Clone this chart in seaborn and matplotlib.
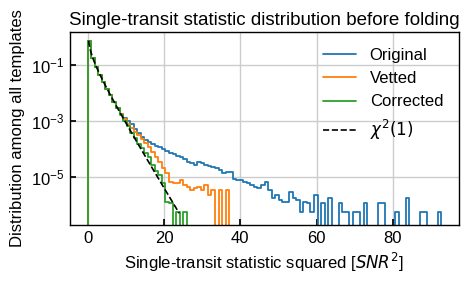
import numpy as np
import pandas as pd
import matplotlib
matplotlib.use("Agg")
import matplotlib.pyplot as plt
import seaborn as sns

# ---- data ----
bin_lo, bin_hi, n_bins = 0.0, 92.7, 100

original = [
    0.72, 0.176, 0.084, 0.044, 0.025, 0.014, 0.0081, 0.0048, 0.0029, 0.0018,
    1.26e-3, 1.0e-3, 7.6e-4, 5.2e-4, 3.7e-4, 2.7e-4, 2.0e-4, 1.8e-4, 1.5e-4, 1.26e-4,
    1.12e-4, 9.5e-5, 8.3e-5, 7.2e-5, 6.3e-5, 5.4e-5, 5.1e-5, 4.2e-5, 3.5e-5, 3.0e-5,
    2.6e-5, 3.5e-5, 3.0e-5, 2.6e-5, 2.5e-5, 2.3e-5, 2.0e-5, 1.74e-5, 1.38e-5, 1.5e-5,
    1.5e-5, 8.7e-6, 7.6e-6, 7.6e-6, 6.6e-6, 5.8e-6, 5.0e-6, 4.4e-6, 3.9e-6, 5.0e-6,
    6.6e-6, 3.35e-6, 1.7e-6, 2.25e-6, 1.48e-6, 1.29e-6, 1.29e-6, 2.95e-6, 1.7e-6, 1.48e-6,
    5.6e-7, 1.29e-6, 1.12e-6, 5.6e-7, 2.25e-6, 0, 1.12e-6, 0, 1.7e-6, 0,
    0, 1.12e-6, 5.6e-7, 5.6e-7, 0, 5.6e-7, 5.6e-7, 0, 1.12e-6, 0,
    0, 0, 1.12e-6, 1.12e-6, 0, 0, 0, 5.6e-7, 0, 0,
    1.7e-6, 0, 0, 0, 5.6e-7, 5.6e-7, 0, 0, 0, 5.6e-7,
]

vetted = [
    0.72, 0.176, 0.084, 0.044, 0.025, 0.014, 0.0081, 0.0048, 0.0028, 0.0017,
    1.12e-3, 7.9e-4, 5.6e-4, 4.0e-4, 3.0e-4, 2.2e-4, 1.66e-4, 1.2e-4, 7.9e-5, 5.0e-5,
    3.5e-5, 2.0e-5, 1.32e-5, 6.6e-6, 6.2e-6, 6.2e-6, 7.6e-6, 5.0e-6, 4.2e-6, 3.35e-6,
    3.85e-6, 4.5e-6, 3.35e-6, 5.0e-6, 2.3e-6, 3.35e-6, 0, 3.5e-6, 0, 3.35e-6,
    0, 0, 0, 0, 0, 0, 0, 0, 0, 0,
    0, 0, 0, 0, 0, 0, 0, 0, 0, 0,
    0, 0, 0, 0, 0, 0, 0, 0, 0, 0,
    0, 0, 0, 0, 0, 0, 0, 0, 0, 0,
    0, 0, 0, 0, 0, 0, 0, 0, 0, 0,
    0, 0, 0, 0, 0, 0, 0, 0, 0, 0,
]

corrected = [
    0.716, 0.1755, 0.084, 0.0443, 0.0247, 0.014, 0.008, 0.0047, 0.0028, 0.00167,
    1.0e-3, 6.3e-4, 3.8e-4, 2.4e-4, 1.5e-4, 1.05e-4, 7.2e-5, 5.0e-5, 2.6e-5, 1.6e-5,
    1.12e-5, 5.8e-6, 1.29e-6, 1.12e-6, 0, 5.6e-7, 0, 5.6e-7, 0, 0,
    0, 0, 0, 0, 0, 0, 0, 0, 0, 0,
    0, 0, 0, 0, 0, 0, 0, 0, 0, 0,
    0, 0, 0, 0, 0, 0, 0, 0, 0, 0,
    0, 0, 0, 0, 0, 0, 0, 0, 0, 0,
    0, 0, 0, 0, 0, 0, 0, 0, 0, 0,
    0, 0, 0, 0, 0, 0, 0, 0, 0, 0,
    0, 0, 0, 0, 0, 0, 0, 0, 0, 0,
]

series_names = ["Original", "Vetted", "Corrected"]
series_colors = ["#1f77b4", "#ff7f0e", "#2ca02c"]
chi_label = r"$\chi^2(1)$"
chi_range = (0.0, 24.0)

title = "Single-transit statistic distribution before folding"
xlabel = r"Single-transit statistic squared [$SNR^2$]"
ylabel = "Distribution among all templates"
x_ticks = [0, 20, 40, 60, 80]

# ---- style ----
sns.set_theme(style="whitegrid")
plt.rcParams.update({
    "font.family": ["Liberation Sans", "DejaVu Sans"],
    "mathtext.fontset": "dejavusans",
    "axes.edgecolor": "black",
    "axes.linewidth": 1.0,
    "grid.color": "#cccccc",
    "grid.linewidth": 1.0,
    "xtick.direction": "in",
    "ytick.direction": "in",
    "xtick.bottom": True,
    "ytick.left": True,
    "xtick.color": "black",
    "ytick.color": "black",
    "xtick.major.size": 4,
    "ytick.major.size": 4,
    "xtick.minor.size": 2,
    "ytick.minor.size": 2,
    "text.color": "black",
    "axes.labelcolor": "black",
})

fig = plt.figure(figsize=(4.69, 2.81), dpi=100)
ax = fig.add_axes([70 / 469, 1 - 225 / 281, (459 - 70) / 469, (225 - 32) / 281])
ax.set_yscale("log")

# bins of the histogram, with one empty bin on each side so the outline
# drops to the baseline at both ends
edges = np.linspace(bin_lo, bin_hi, n_bins + 1)
width = edges[1] - edges[0]
edges_pad = np.r_[edges[0] - width, edges, edges[-1] + width]
centers = 0.5 * (edges_pad[:-1] + edges_pad[1:])

frames = []
for name, vals in zip(series_names, [original, vetted, corrected]):
    frames.append(pd.DataFrame({
        "snr2": centers,
        "density": np.r_[0.0, np.asarray(vals, dtype=float), 0.0],
        "series": name,
    }))
df = pd.concat(frames, ignore_index=True)

for name, color in zip(series_names, series_colors):
    sub = df[df["series"] == name]
    sns.histplot(data=sub, x="snr2", weights="density", bins=edges_pad.tolist(),
                 element="step", fill=False, color=color, linewidth=1.3,
                 ax=ax, label=name)

x_chi = np.linspace(chi_range[0], chi_range[1], 101)[1:]
y_chi = np.exp(-x_chi / 2) / np.sqrt(2 * np.pi * x_chi)
sns.lineplot(x=x_chi, y=y_chi, color="black", linestyle="--", linewidth=1.2,
             ax=ax, label=chi_label)

ax.set_xlim(bin_lo - 0.05 * bin_hi, bin_hi * 1.05)
ax.set_ylim(10 ** -6.72, 10 ** 0.17)
ax.set_xticks(x_ticks)
ax.tick_params(labelsize=12, pad=4)
ax.set_title(title, fontsize=13.5, pad=5)
ax.set_xlabel(xlabel, fontsize=12)
ax.set_ylabel(ylabel, fontsize=12)
ax.legend(loc="upper right", frameon=False, fontsize=12,
          borderaxespad=0.55, labelspacing=0.5)
for side in ["top", "right", "left", "bottom"]:
    ax.spines[side].set_color("black")

fig.savefig("out.png", dpi=100)
